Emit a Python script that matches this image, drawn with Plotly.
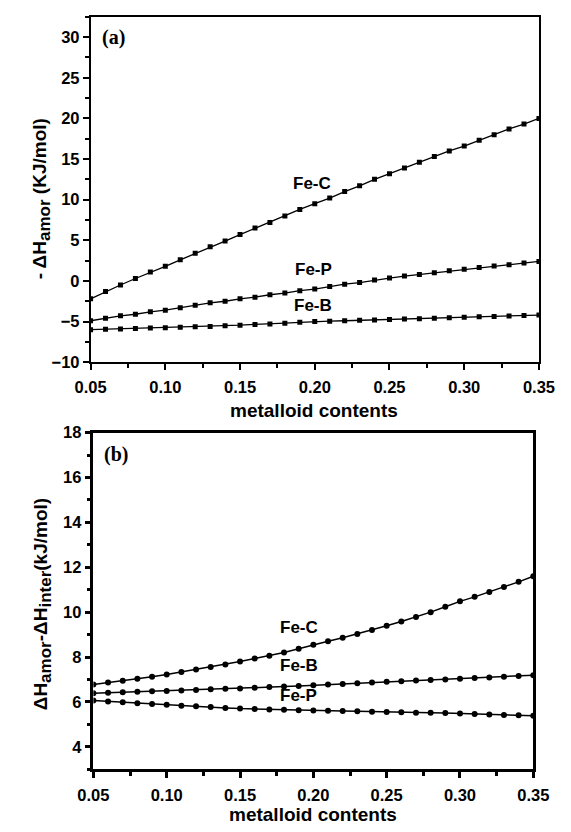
import plotly.graph_objects as go

# ---------------- data ----------------
x_contents = [0.05, 0.06, 0.07, 0.08, 0.09, 0.10, 0.11, 0.12, 0.13, 0.14, 0.15,
              0.16, 0.17, 0.18, 0.19, 0.20, 0.21, 0.22, 0.23, 0.24, 0.25,
              0.26, 0.27, 0.28, 0.29, 0.30, 0.31, 0.32, 0.33, 0.34, 0.35]

# panel (a): -dH_amor (KJ/mol)
a_FeC = [-2.2, -1.3, -0.5, 0.3, 1.1, 1.8, 2.6, 3.4, 4.2, 4.9, 5.7,
         6.5, 7.2, 8.0, 8.8, 9.5, 10.2, 11.0, 11.7, 12.5, 13.2,
         13.9, 14.6, 15.3, 16.0, 16.6, 17.3, 18.0, 18.7, 19.3, 20.0]
a_FeP = [-4.9, -4.6, -4.3, -4.1, -3.8, -3.6, -3.3, -3.0, -2.7, -2.5, -2.2,
         -2.0, -1.7, -1.5, -1.2, -1.0, -0.7, -0.4, -0.2, 0.1, 0.35,
         0.6, 0.8, 1.0, 1.25, 1.45, 1.65, 1.85, 2.0, 2.2, 2.4]
a_FeB = [-6.0, -5.95, -5.9, -5.85, -5.8, -5.77, -5.7, -5.65, -5.6, -5.5, -5.45,
         -5.35, -5.3, -5.2, -5.1, -5.0, -4.95, -4.9, -4.85, -4.8, -4.75,
         -4.7, -4.65, -4.6, -4.52, -4.47, -4.42, -4.37, -4.32, -4.26, -4.2]

# panel (b): dH_amor - dH_inter (kJ/mol)
b_FeC = [6.78, 6.86, 6.94, 7.03, 7.12, 7.22, 7.33, 7.44, 7.55, 7.67, 7.8,
         7.93, 8.06, 8.2, 8.37, 8.55, 8.7, 8.86, 9.03, 9.2, 9.39,
         9.58, 9.78, 10.0, 10.24, 10.48, 10.68, 10.9, 11.12, 11.35, 11.6]
b_FeB = [6.39, 6.41, 6.43, 6.45, 6.47, 6.49, 6.51, 6.53, 6.56, 6.58, 6.6,
         6.63, 6.66, 6.68, 6.71, 6.74, 6.77, 6.8, 6.83, 6.86, 6.9,
         6.92, 6.95, 6.98, 7.0, 7.03, 7.06, 7.09, 7.12, 7.15, 7.19]
b_FeP = [6.06, 6.02, 5.98, 5.94, 5.9, 5.87, 5.83, 5.8, 5.77, 5.73, 5.7,
         5.68, 5.66, 5.65, 5.63, 5.62, 5.61, 5.59, 5.58, 5.56, 5.55,
         5.54, 5.52, 5.51, 5.5, 5.48, 5.46, 5.44, 5.42, 5.4, 5.38]

x_ticks = [0.05, 0.10, 0.15, 0.20, 0.25, 0.30, 0.35]
x_ticklabels = ["0.05", "0.10", "0.15", "0.20", "0.25", "0.30", "0.35"]
a_yticks = [-10, -5, 0, 5, 10, 15, 20, 25, 30]
b_yticks = [4, 6, 8, 10, 12, 14, 16, 18]

# label positions (data coords)
a_labels = [("Fe-C", 0.198, 12.0), ("Fe-P", 0.199, 1.45), ("Fe-B", 0.199, -3.0)]
b_labels = [("Fe-C", 0.19, 9.3), ("Fe-B", 0.19, 7.6), ("Fe-P", 0.19, 6.27)]

# ---------------- figure ----------------
W, H = 571, 832
fig = go.Figure()

for ys in (a_FeC, a_FeP, a_FeB):
    fig.add_trace(go.Scatter(x=x_contents, y=ys, xaxis="x", yaxis="y",
                             mode="lines+markers",
                             line=dict(color="black", width=1.3),
                             marker=dict(symbol="square", size=5, color="black"),
                             showlegend=False))
for ys in (b_FeC, b_FeB, b_FeP):
    fig.add_trace(go.Scatter(x=x_contents, y=ys, xaxis="x2", yaxis="y2",
                             mode="lines+markers",
                             line=dict(color="black", width=1.5),
                             marker=dict(symbol="circle", size=6, color="black"),
                             showlegend=False))

tickfont = dict(family="Arial, Liberation Sans", size=16.5, color="black", weight="bold")

def xaxis_cfg(domain, anchor, lw):
    return dict(domain=domain, anchor=anchor, range=[0.05, 0.35],
                tickmode="array", tickvals=x_ticks, ticktext=x_ticklabels,
                ticks="outside", ticklen=6, tickwidth=lw, tickcolor="black",
                minor=dict(dtick=0.025, tick0=0.05, ticks="outside", ticklen=4,
                           tickwidth=lw, tickcolor="black"),
                showline=True, linecolor="black", linewidth=lw, mirror=True,
                showgrid=False, zeroline=False, tickfont=tickfont,
                ticklabelstandoff=3)

def yaxis_cfg(domain, anchor, rng, tv, minor_dt, lw):
    return dict(domain=domain, anchor=anchor, range=rng,
                tickmode="array", tickvals=tv,
                ticks="outside", ticklen=6, tickwidth=lw, tickcolor="black",
                minor=dict(dtick=minor_dt, tick0=tv[0], ticks="outside", ticklen=4,
                           tickwidth=lw, tickcolor="black"),
                showline=True, linecolor="black", linewidth=lw, mirror=True,
                showgrid=False, zeroline=False, tickfont=tickfont)

a_xdom = [79 / W, 554 / W]
a_ydom = [1 - 361 / H, 1 - 8 / H]
b_xdom = [82 / W, 548 / W]
b_ydom = [1 - 777 / H, 1 - 433 / H]

fig.update_layout(
    width=W, height=H,
    margin=dict(l=0, r=0, t=0, b=0),
    paper_bgcolor="white", plot_bgcolor="white",
    xaxis=xaxis_cfg(a_xdom, "y", 1.5),
    yaxis=yaxis_cfg(a_ydom, "x", [-10, 32.5], a_yticks, 2.5, 1.5),
    xaxis2=xaxis_cfg(b_xdom, "y2", 2.5),
    yaxis2=yaxis_cfg(b_ydom, "x2", [3, 18], b_yticks, 1, 2.5),
)

lblfont = dict(family="Arial, Liberation Sans", size=17, color="black")
for txt, xv, yv in a_labels:
    fig.add_annotation(x=xv, y=yv, xref="x", yref="y", text="<b>%s</b>" % txt,
                       showarrow=False, font=lblfont,
                       xanchor="center", yanchor="middle")
for txt, xv, yv in b_labels:
    fig.add_annotation(x=xv, y=yv, xref="x2", yref="y2", text="<b>%s</b>" % txt,
                       showarrow=False, font=lblfont,
                       xanchor="center", yanchor="middle")

titlefont = dict(family="Arial, Liberation Sans", size=19, color="black")
serif = dict(family="Liberation Serif, Times New Roman", size=20, color="black")

def paper_text(px, py, text, font, angle=0, xanchor="center"):
    fig.add_annotation(x=px / W, y=1 - py / H, xref="paper", yref="paper",
                       text=text, showarrow=False, font=font, textangle=angle,
                       xanchor=xanchor, yanchor="middle")

def sub(s):
    return '<sub><span style="font-size:17px">%s</span></sub>' % s

# panel tags
paper_text(89, 29, "<b>(a)</b>", serif, xanchor="left")
paper_text(91, 455, "<b>(b)</b>", serif, xanchor="left")
# x titles
paper_text(316, 410, "<b>metalloid contents</b>", titlefont)
paper_text(315, 823, "<b>metalloid contents</b>", titlefont)
# y titles
paper_text(27, 194, "<b>- \u0394H%s (KJ/mol)</b>" % sub("amor"), titlefont, angle=-90)
paper_text(28, 608, "<b>\u0394H%s-\u0394H%s(kJ/mol)</b>" % (sub("amor"), sub("inter")),
           titlefont, angle=-90)

fig.write_html("out.html")
